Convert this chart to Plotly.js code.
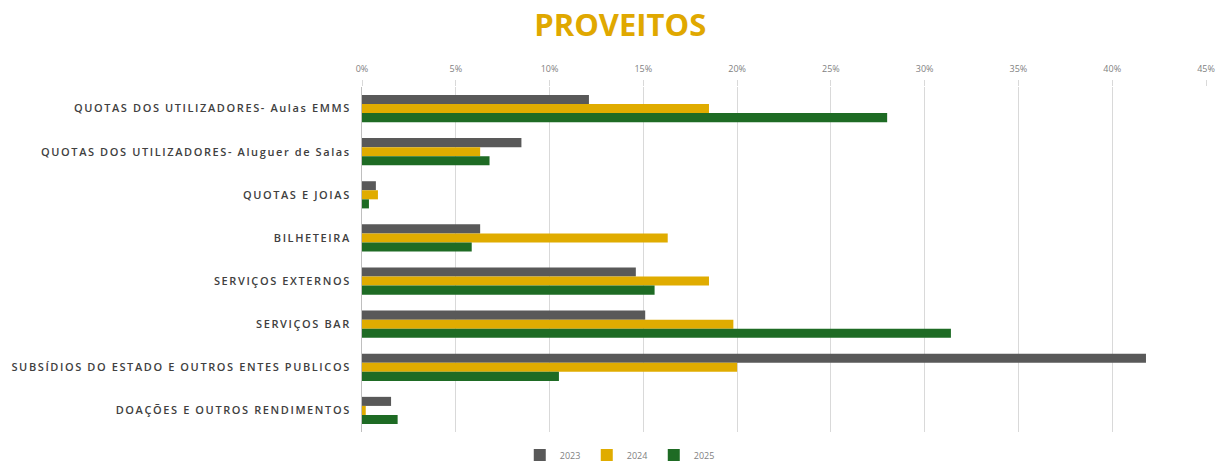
<!DOCTYPE html>
<html><head><meta charset="utf-8">
<script src="https://cdn.plot.ly/plotly-3.0.1.min.js"></script>
<style>html,body{margin:0;padding:0;background:#fff}#c{width:1221px;height:462px}
.ytick text{letter-spacing:1.6px}</style>
</head><body><div id="c"></div>
<script>
const categories = [
  "QUOTAS DOS UTILIZADORES- Aulas EMMS",
  "QUOTAS DOS UTILIZADORES- Aluguer de Salas",
  "QUOTAS E JOIAS",
  "BILHETEIRA",
  "SERVIÇOS EXTERNOS",
  "SERVIÇOS BAR",
  "SUBSÍDIOS DO ESTADO E OUTROS ENTES PUBLICOS",
  "DOAÇÕES E OUTROS RENDIMENTOS"
];
const years = ["2023", "2024", "2025"];
const v2023 = [0.121, 0.085, 0.0074, 0.063, 0.146, 0.151, 0.418, 0.0155];
const v2024 = [0.185, 0.063, 0.0085, 0.163, 0.185, 0.198, 0.200, 0.002];
const v2025 = [0.280, 0.068, 0.0037, 0.0585, 0.156, 0.314, 0.105, 0.019];
const tickVals = [0,0.05,0.10,0.15,0.20,0.25,0.30,0.35,0.40,0.45];
const tickText = ["0%","5%","10%","15%","20%","25%","30%","35%","40%","45%"];

const colors = ["#595959", "#E0AC00", "#1E6B24"];
const series = [v2023, v2024, v2025];
const data = series.map((vals, i) => ({
  type: "bar", orientation: "h", name: years[i],
  x: vals, y: categories,
  marker: {color: colors[i], line: {width: 0}},
  hoverinfo: "x+y"
}));

const layout = {
  width: 1221, height: 462,
  margin: {l: 362, r: 15, t: 87, b: 30},
  paper_bgcolor: "#fff", plot_bgcolor: "#fff",
  title: {text: "<b>PROVEITOS</b>", x: 0.508, xanchor: "center", y: 0.945, yanchor: "middle",
          font: {family: "Open Sans, Liberation Sans, sans-serif", size: 31, color: "#E0A800"}},
  barmode: "group", bargap: 0.37, bargroupgap: 0,
  xaxis: {side: "top", range: [0, 0.45], tickvals: tickVals, ticktext: tickText,
          showgrid: true, gridcolor: "#d9d9d9", gridwidth: 1, zeroline: false,
          ticks: "outside", ticklen: 6, tickcolor: "#d9d9d9", ticklabelstandoff: 4,
          showline: false, automargin: false,
          tickfont: {family: "Open Sans, sans-serif", size: 9, color: "#7f7f7f"}},
  yaxis: {autorange: "reversed", showline: true, linecolor: "#bfbfbf", linewidth: 1,
          ticks: "", ticklabelstandoff: 8, automargin: false,
          tickfont: {family: "Open Sans, sans-serif", size: 11, weight: 600, color: "#404040"}},
  showlegend: true,
  legend: {orientation: "h", x: 0.508, xanchor: "center", xref: "container",
           y: 0.015, yanchor: "middle", yref: "container",
           font: {family: "Open Sans, sans-serif", size: 9, color: "#7f7f7f"},
           traceorder: "normal", itemwidth: 30, entrywidth: 22}
};
Plotly.newPlot("c", data, layout, {displayModeBar: false, staticPlot: true});
</script></body></html>
